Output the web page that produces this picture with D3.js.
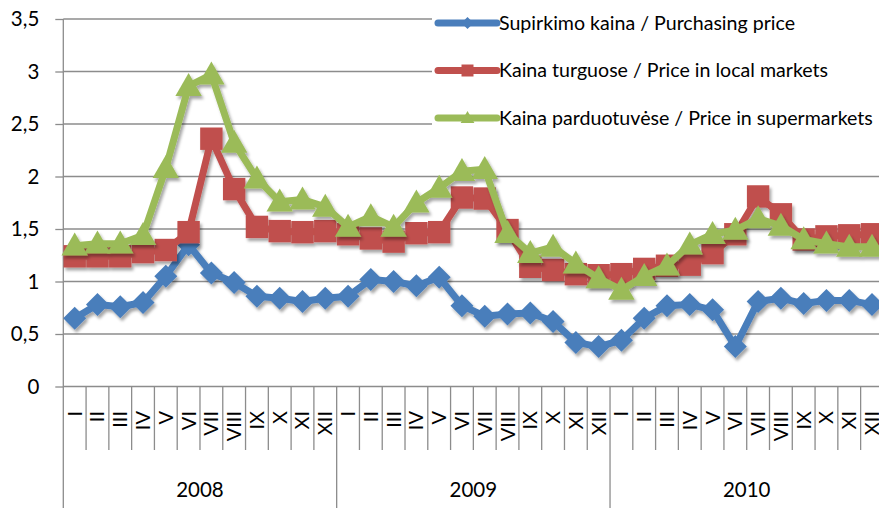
<!DOCTYPE html>
<html>
<head>
<meta charset="utf-8">
<script src="https://cdn.jsdelivr.net/npm/d3@7"></script>
<style>
  body { margin: 0; background: #fff; }
  svg { display: block; font-family: Lato, "Liberation Sans", sans-serif; }
  .grid line { stroke: #8c8c8c; stroke-width: 1.3; }
  .axis text { fill: #000; }
</style>
</head>
<body>
<div id="chart"></div>
<script>
// months and years on the x axis
var months = ['I', 'II', 'III', 'IV', 'V', 'VI', 'VII', 'VIII', 'IX', 'X', 'XI', 'XII'];
var years = ['2008', '2009', '2010'];
var yTicks = [0, 0.5, 1, 1.5, 2, 2.5, 3, 3.5];

// series, Jan 2008 .. Dec 2010
var purchasing = [0.65, 0.78, 0.76, 0.80, 1.05, 1.35, 1.08, 0.99, 0.86, 0.84, 0.81, 0.84,
  0.86, 1.02, 1.00, 0.96, 1.04, 0.77, 0.67, 0.69, 0.70, 0.62, 0.42, 0.38,
  0.44, 0.65, 0.77, 0.78, 0.73, 0.38, 0.81, 0.84, 0.79, 0.82, 0.82, 0.78];
var markets = [1.24, 1.24, 1.24, 1.28, 1.30, 1.47, 2.36, 1.88, 1.52, 1.48, 1.47, 1.48,
  1.45, 1.41, 1.38, 1.46, 1.47, 1.80, 1.79, 1.49, 1.14, 1.11, 1.07, 1.06,
  1.07, 1.12, 1.15, 1.16, 1.27, 1.45, 1.81, 1.64, 1.40, 1.43, 1.44, 1.45];
var supermarkets = [1.34, 1.36, 1.36, 1.44, 2.08, 2.86, 2.97, 2.32, 1.98, 1.76, 1.78, 1.71,
  1.52, 1.62, 1.52, 1.75, 1.89, 2.05, 2.07, 1.46, 1.27, 1.33, 1.17, 1.03,
  0.92, 1.05, 1.15, 1.35, 1.45, 1.49, 1.60, 1.53, 1.40, 1.36, 1.33, 1.33];

var seriesNames = [
  'Supirkimo kaina / Purchasing price',
  'Kaina turguose / Price in local markets',
  'Kaina parduotuvėse / Price in supermarkets'
];

var series = [
  { name: seriesNames[0], values: purchasing, color: '#4a7ebb', marker: 'diamond' },
  { name: seriesNames[1], values: markets, color: '#c0504d', marker: 'square' },
  { name: seriesNames[2], values: supermarkets, color: '#9bbb59', marker: 'triangle' }
];

// plot box (window.top is read-only, so no "top" here)
var W = 879, H = 508;
var plot = { x0: 63.3, x1: 883.4, y0: 19, y1: 386.5 };

var svg = d3.select('#chart').append('svg')
  .attr('width', W).attr('height', H);

var defs = svg.append('defs');
var shadow = defs.append('filter').attr('id', 'shadow')
  .attr('x', '-20%').attr('y', '-20%').attr('width', '140%').attr('height', '140%');
shadow.append('feDropShadow')
  .attr('dx', 2).attr('dy', 3).attr('stdDeviation', 1.8)
  .attr('flood-color', '#000').attr('flood-opacity', 0.35);

// scales
var idx = d3.range(years.length * months.length);
var x = d3.scaleBand().domain(idx).range([plot.x0, plot.x1]);
var y = d3.scaleLinear().domain([0, 3.5]).range([plot.y1, plot.y0]);
var fmt = function(d) { return d3.format('~g')(d).replace('.', ','); };

// gridlines
svg.append('g').attr('class', 'grid')
  .selectAll('line').data(yTicks.filter(function(d) { return d > 0; }))
  .join('line')
  .attr('x1', plot.x0).attr('x2', W)
  .attr('y1', function(d) { return y(d); })
  .attr('y2', function(d) { return y(d); });

// y axis
var yAxis = svg.append('g').attr('class', 'axis')
  .attr('transform', 'translate(' + plot.x0 + ',0)')
  .call(d3.axisLeft(y).tickValues(yTicks).tickFormat(fmt).tickSize(8).tickPadding(16));
yAxis.select('.domain').remove();
yAxis.selectAll('.tick line').attr('stroke', '#8c8c8c').attr('stroke-width', 1.3);
yAxis.selectAll('.tick text').attr('font-size', 20.5).attr('font-family', 'Lato, sans-serif');
svg.append('line')
  .attr('x1', plot.x0).attr('x2', plot.x0).attr('y1', plot.y0).attr('y2', H)
  .attr('stroke', '#8c8c8c').attr('stroke-width', 1.3);

// x axis: baseline, month ticks, year separators
var xAxis = svg.append('g').attr('class', 'axis');
xAxis.append('line')
  .attr('x1', plot.x0).attr('x2', W).attr('y1', plot.y1).attr('y2', plot.y1)
  .attr('stroke', '#8c8c8c').attr('stroke-width', 1.3);
xAxis.selectAll('line.tick').data(idx.slice(1))
  .join('line').attr('class', 'tick')
  .attr('x1', function(d) { return x(d); })
  .attr('x2', function(d) { return x(d); })
  .attr('y1', plot.y1)
  .attr('y2', function(d) { return d % 12 == 0 ? H : 450; })
  .attr('stroke', '#8c8c8c').attr('stroke-width', 1.3);

xAxis.selectAll('text.month').data(idx)
  .join('text').attr('class', 'month')
  .attr('transform', function(d) {
    return 'translate(' + (x(d) + x.bandwidth() / 2) + ',411) rotate(-90)';
  })
  .attr('text-anchor', 'end')
  .attr('dy', '0.35em')
  .attr('font-size', 20)
  .text(function(d) { return months[d % 12]; });

xAxis.selectAll('text.year').data(years)
  .join('text').attr('class', 'year')
  .attr('x', function(d, i) { return (x(i * 12) + x(i * 12 + 11) + x.bandwidth()) / 2; })
  .attr('y', 497)
  .attr('text-anchor', 'middle')
  .attr('font-size', 20.5)
  .text(function(d) { return d; });

// marker shapes
var markerPath = {
  diamond: function(s) { return 'M0,' + (-s) + 'L' + s + ',0L0,' + s + 'L' + (-s) + ',0Z'; },
  square: function(s) { return 'M' + (-s) + ',' + (-s) + 'h' + 2 * s + 'v' + 2 * s + 'h' + (-2 * s) + 'Z'; },
  triangle: function(s) { return 'M0,' + (-s * 1.15) + 'L' + s * 1.15 + ',' + s * 0.85 + 'L' + (-s * 1.15) + ',' + s * 0.85 + 'Z'; }
};
var markerSize = { diamond: 11.5, square: 11.2, triangle: 11.5 };

var line = d3.line()
  .x(function(d, i) { return x(i) + x.bandwidth() / 2; })
  .y(function(d) { return y(d); });

// series, blue first, green on top
series.forEach(function(s) {
  var g = svg.append('g').attr('filter', 'url(#shadow)');
  g.append('path')
    .attr('d', line(s.values))
    .attr('fill', 'none')
    .attr('stroke', s.color)
    .attr('stroke-width', 7)
    .attr('stroke-linejoin', 'round');
  g.selectAll('path.mark').data(s.values)
    .join('path').attr('class', 'mark')
    .attr('transform', function(d, i) {
      return 'translate(' + (x(i) + x.bandwidth() / 2) + ',' + y(d) + ')';
    })
    .attr('d', markerPath[s.marker](markerSize[s.marker]))
    .attr('fill', s.color);
});

// legend
var legend = svg.append('g');
legend.append('rect')
  .attr('x', 432).attr('y', 0).attr('width', W - 432).attr('height', 145)
  .attr('fill', '#fff');
var items = legend.selectAll('g.item').data(series)
  .join('g').attr('class', 'item')
  .attr('transform', function(d, i) { return 'translate(438,' + (23 + i * 47.5) + ')'; });
items.append('line')
  .attr('x1', 0).attr('x2', 59)
  .attr('stroke', function(d) { return d.color; })
  .attr('stroke-width', 7)
  .attr('stroke-linecap', 'round');
items.append('path')
  .attr('transform', 'translate(29.5,0)')
  .attr('d', function(d) { return markerPath[d.marker](6); })
  .attr('fill', function(d) { return d.color; });
items.append('text')
  .attr('x', 61)
  .attr('dy', '0.35em')
  .attr('font-size', 19.6)
  .text(function(d) { return d.name; });
</script>
</body>
</html>
